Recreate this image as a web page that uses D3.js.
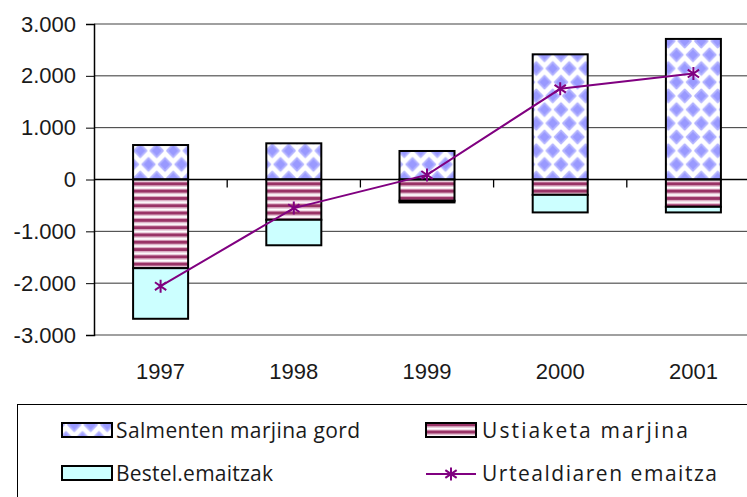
<!DOCTYPE html>
<html>
<head>
<meta charset="utf-8">
<script src="https://cdn.jsdelivr.net/npm/d3@7/dist/d3.min.js"></script>
<style>
  html, body { margin: 0; padding: 0; background: #fff; }
  svg { display: block; }
</style>
</head>
<body>
<svg id="chart" width="747" height="497"></svg>
<script>
const years = ["1997", "1998", "1999", "2000", "2001"];
const salmenten = [665, 698, 550, 2415, 2712];
const ustiaketa = [-1711, -777, -411, -296, -527];
const bestel = [-976, -492, -31, -339, -108];
const urtealdia = [-2058, -552, 88, 1750, 2044];
const yTicks = [-3000, -2000, -1000, 0, 1000, 2000, 3000];
const seriesNames = ["Salmenten marjina gord", "Ustiaketa marjina", "Bestel.emaitzak", "Urtealdiaren emaitza"];

const svg = d3.select("#chart");
const defs = svg.append("defs");

// diamond pattern
const PW = 16.5, PH = 27.4;
const pd = defs.append("pattern").attr("id", "diam").attr("patternUnits", "userSpaceOnUse")
  .attr("width", PW).attr("height", PH).attr("x", 0).attr("y", 0);
pd.append("rect").attr("width", PW).attr("height", PH).attr("fill", "#fff");
const dpts = [[0,0],[PW,0],[0,PH],[PW,PH],[PW/2,PH/2]];
dpts.forEach(([cx, cy]) => {
  pd.append("path").attr("d", `M${cx},${cy-6.4}L${cx+6.2},${cy}L${cx},${cy+6.4}L${cx-6.2},${cy}Z`)
    .attr("fill", "#9999ff").attr("stroke", "#b3b3ff").attr("stroke-width", 1.8).attr("stroke-linejoin", "round");
});
// stripe pattern
const ps = defs.append("pattern").attr("id", "stripe").attr("patternUnits", "userSpaceOnUse")
  .attr("width", 10).attr("height", 7.3);
ps.append("rect").attr("width", 10).attr("height", 7.3).attr("fill", "#fff");
ps.append("rect").attr("y", 0).attr("width", 10).attr("height", 3).attr("fill", "#993366");
ps.append("rect").attr("y", 3).attr("width", 10).attr("height", 1.1).attr("fill", "#d49ab7");
ps.append("rect").attr("y", 6.2).attr("width", 10).attr("height", 1.1).attr("fill", "#d49ab7");

const x = d3.scaleBand().domain(years).range([94, 760]).paddingInner(0.587).paddingOuter(0.2935);
const y = d3.scaleLinear().domain([-3000, 3000]).range([335, 24]);

// gridlines
svg.append("g").selectAll("line").data(yTicks.filter(t => t !== 0)).join("line")
  .attr("x1", 94).attr("x2", 760)
  .attr("y1", d => y(d)).attr("y2", d => y(d))
  .attr("stroke", d => (Math.abs(d) === 3000 ? "#808080" : "#333")).attr("stroke-width", d => (Math.abs(d) === 3000 ? 1.6 : 1));

// y axis
const axisFont = "Liberation Sans, Arial, sans-serif";
const yAxis = d3.axisLeft(y).tickValues(yTicks).tickSize(8).tickPadding(10)
  .tickFormat(d => d3.format(",")(d).replace(/,/g, ".").replace("−", "-"));
const gy = svg.append("g").attr("transform", "translate(94,0)").call(yAxis);
gy.select(".domain").attr("stroke", "#000").attr("stroke-width", 1.5);
gy.selectAll(".tick line").attr("stroke", "#000");
gy.selectAll("text").attr("font-family", axisFont).attr("font-size", 22).attr("fill", "#1a1a1a");

// bars
const bw = x.bandwidth();
const g = svg.append("g");
g.selectAll("rect.sal").data(years).join("rect").attr("class", "sal")
  .attr("x", d => x(d)).attr("width", bw)
  .attr("y", (d, i) => y(salmenten[i])).attr("height", (d, i) => y(0) - y(salmenten[i]))
  .attr("fill", "url(#diam)").attr("stroke", "#000").attr("stroke-width", 2);
g.selectAll("rect.ust").data(years).join("rect").attr("class", "ust")
  .attr("x", d => x(d)).attr("width", bw)
  .attr("y", y(0)).attr("height", (d, i) => y(ustiaketa[i]) - y(0))
  .attr("fill", "url(#stripe)").attr("stroke", "#000").attr("stroke-width", 2);
g.selectAll("rect.bes").data(years).join("rect").attr("class", "bes")
  .attr("x", d => x(d)).attr("width", bw)
  .attr("y", (d, i) => y(ustiaketa[i])).attr("height", (d, i) => y(ustiaketa[i] + bestel[i]) - y(ustiaketa[i]))
  .attr("fill", "#ccffff").attr("stroke", "#000").attr("stroke-width", 2);

// zero line and category ticks
svg.append("line").attr("x1", 94).attr("x2", 760).attr("y1", y(0)).attr("y2", y(0)).attr("stroke", "#000").attr("stroke-width", 1.3);
svg.append("g").selectAll("line").data(years.slice(1)).join("line")
  .attr("x1", d => x(d) - x.step() * x.paddingInner() / 2).attr("x2", d => x(d) - x.step() * x.paddingInner() / 2)
  .attr("y1", y(0)).attr("y2", y(0) + 8).attr("stroke", "#000").attr("stroke-width", 1.3);
// category labels
svg.append("g").selectAll("text").data(years).join("text")
  .attr("x", d => x(d) + bw / 2).attr("y", 379)
  .attr("text-anchor", "middle").attr("font-family", axisFont).attr("font-size", 22).attr("fill", "#1a1a1a")
  .text(d => d);

// line
const cx = d => x(d) + bw / 2;
const line = d3.line().x((d, i) => cx(years[i])).y(d => y(d));
svg.append("path").datum(urtealdia).attr("d", line).attr("fill", "none").attr("stroke", "#800080").attr("stroke-width", 2);
function star(sel, px, py, r) {
  const p = `M${px},${py - r}L${px},${py + r}M${px - r * 0.87},${py - r * 0.6}L${px + r * 0.87},${py + r * 0.6}M${px - r * 0.87},${py + r * 0.6}L${px + r * 0.87},${py - r * 0.6}`;
  sel.append("path").attr("d", p).attr("stroke", "#800080").attr("stroke-width", 2).attr("fill", "none");
}
urtealdia.forEach((v, i) => star(svg, cx(years[i]), y(v), 6.5));

// legend
const lg = svg.append("g");
lg.append("rect").attr("x", 17.5).attr("y", 404.5).attr("width", 760).attr("height", 120).attr("fill", "#fff").attr("stroke", "#000").attr("stroke-width", 1);
const font = "Open Sans, Noto Sans, sans-serif";
const items = [
  { name: seriesNames[0], sx: 62, sy: 423, type: "rect", fill: "url(#diam)", tx: 116, ty: 438, w: 244 },
  { name: seriesNames[1], sx: 426, sy: 423, type: "rect", fill: "url(#stripe)", tx: 482, ty: 438, w: 206 },
  { name: seriesNames[2], sx: 62, sy: 466, type: "rect", fill: "#ccffff", tx: 116, ty: 481, w: 157 },
  { name: seriesNames[3], sx: 426, sy: 466, type: "line", tx: 482, ty: 481, w: 235 }
];
items.forEach(it => {
  if (it.type === "rect") {
    lg.append("rect").attr("x", it.sx).attr("y", it.sy).attr("width", 50).attr("height", 14)
      .attr("fill", it.fill).attr("stroke", "#000").attr("stroke-width", 2);
  } else {
    lg.append("line").attr("x1", it.sx).attr("x2", it.sx + 50).attr("y1", it.sy + 8).attr("y2", it.sy + 8)
      .attr("stroke", "#800080").attr("stroke-width", 2);
    star(lg, it.sx + 25, it.sy + 8, 6.5);
  }
  lg.append("text").attr("x", it.tx).attr("y", it.ty).attr("font-family", font).attr("font-size", 21)
    .attr("textLength", it.w).attr("lengthAdjust", "spacing").attr("fill", "#1a1a1a").text(it.name);
});
</script>
</body>
</html>
